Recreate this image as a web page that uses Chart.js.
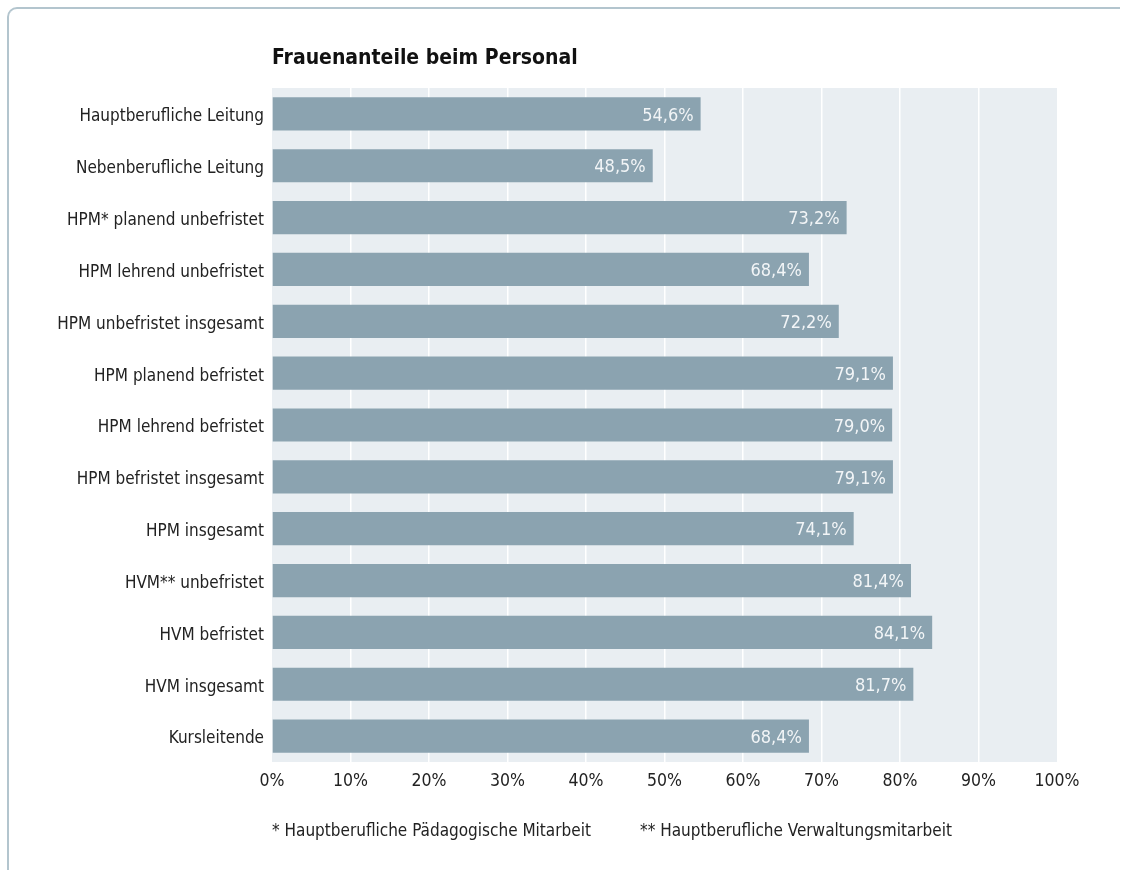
<!DOCTYPE html>
<html>
<head>
<meta charset="utf-8">
<script src="https://cdn.jsdelivr.net/npm/chart.js@4.4.0/dist/chart.umd.min.js"></script>
<style>
  html, body { margin: 0; padding: 0; background: #ffffff; }
  body { width: 1122px; height: 870px; position: relative; overflow: hidden;
         font-family: "DejaVu Sans Condensed", "Liberation Sans", sans-serif; }
  #frame { position: absolute; left: 7px; top: 7px; width: 1113px; height: 900px;
           border-top: 2px solid #b3c5ce; border-left: 2px solid #b3c5ce;
           border-top-left-radius: 10px; box-sizing: border-box; }
  #wrap { position: absolute; left: 0; top: 0; width: 1122px; height: 870px; }
  #title { position: absolute; left: 272px; top: 45px; font-weight: bold; font-size: 21px;
           color: #111; white-space: nowrap; }
  .note { position: absolute; top: 820px; font-size: 17px; color: #222; white-space: nowrap; }
</style>
</head>
<body>
<div id="frame"></div>
<div id="wrap"><canvas id="c" width="1122" height="870"></canvas></div>
<div id="title">Frauenanteile beim Personal</div>
<div class="note" style="left:272px">* Hauptberufliche Pädagogische Mitarbeit</div>
<div class="note" style="left:640px">** Hauptberufliche Verwaltungsmitarbeit</div>
<script>
const categories = [
  "Hauptberufliche Leitung",
  "Nebenberufliche Leitung",
  "HPM* planend unbefristet",
  "HPM lehrend unbefristet",
  "HPM unbefristet insgesamt",
  "HPM planend befristet",
  "HPM lehrend befristet",
  "HPM befristet insgesamt",
  "HPM insgesamt",
  "HVM** unbefristet",
  "HVM befristet",
  "HVM insgesamt",
  "Kursleitende"
];
const values = [54.6, 48.5, 73.2, 68.4, 72.2, 79.1, 79.0, 79.1, 74.1, 81.4, 84.1, 81.7, 68.4];
const xTickValues = [0, 10, 20, 30, 40, 50, 60, 70, 80, 90, 100];
const xTickLabels = ["0%", "10%", "20%", "30%", "40%", "50%", "60%", "70%", "80%", "90%", "100%"];

const FONT = '"DejaVu Sans Condensed", "Liberation Sans", sans-serif';

const plotBg = {
  id: 'plotBg',
  beforeDraw(chart) {
    const a = chart.chartArea, ctx = chart.ctx;
    ctx.save();
    ctx.fillStyle = '#e9eef2';
    ctx.fillRect(a.left, a.top, a.right - a.left, a.bottom - a.top);
    ctx.restore();
  }
};

const valueLabels = {
  id: 'valueLabels',
  afterDatasetsDraw(chart) {
    const ctx = chart.ctx;
    const meta = chart.getDatasetMeta(0);
    ctx.save();
    ctx.font = '18px ' + FONT;
    ctx.fillStyle = '#f2f5f7';
    ctx.textAlign = 'right';
    ctx.textBaseline = 'middle';
    meta.data.forEach((bar, i) => {
      const txt = values[i].toFixed(1).replace('.', ',') + '%';
      ctx.fillText(txt, bar.x - 7, bar.y + 2);
    });
    ctx.restore();
  }
};

new Chart(document.getElementById('c'), {
  type: 'bar',
  data: {
    labels: categories,
    datasets: [{
      data: values,
      backgroundColor: '#8ba3b0',
      borderWidth: 0,
      categoryPercentage: 1.0,
      barPercentage: 0.64
    }]
  },
  options: {
    indexAxis: 'y',
    responsive: false,
    animation: false,
    devicePixelRatio: 1,
    layout: { padding: { left: 0, right: 65, top: 88, bottom: 68 } },
    plugins: { legend: { display: false }, tooltip: { enabled: false }, title: { display: false } },
    scales: {
      x: {
        min: 0, max: 100,
        afterBuildTicks(scale) { scale.ticks = xTickValues.map(v => ({ value: v })); },
        afterFit(scale) { scale.height = 40; },
        grid: {
          color: (c) => (c.tick && (c.tick.value === 0 || c.tick.value === 100)) ? 'rgba(0,0,0,0)' : '#ffffff',
          lineWidth: 1.5,
          drawTicks: false
        },
        border: { display: false },
        ticks: {
          padding: 9,
          color: '#222',
          font: { family: FONT, size: 17.5 },
          maxRotation: 0,
          autoSkip: false,
          callback: (v, i) => xTickLabels[xTickValues.indexOf(v)]
        }
      },
      y: {
        afterFit(scale) { scale.width = 272; },
        grid: { display: false, drawTicks: false },
        border: { display: false },
        ticks: {
          padding: 8,
          labelOffset: 3,
          color: '#222',
          font: { family: FONT, size: 17 },
          autoSkip: false
        }
      }
    }
  },
  plugins: [plotBg, valueLabels]
});
</script>
</body>
</html>
